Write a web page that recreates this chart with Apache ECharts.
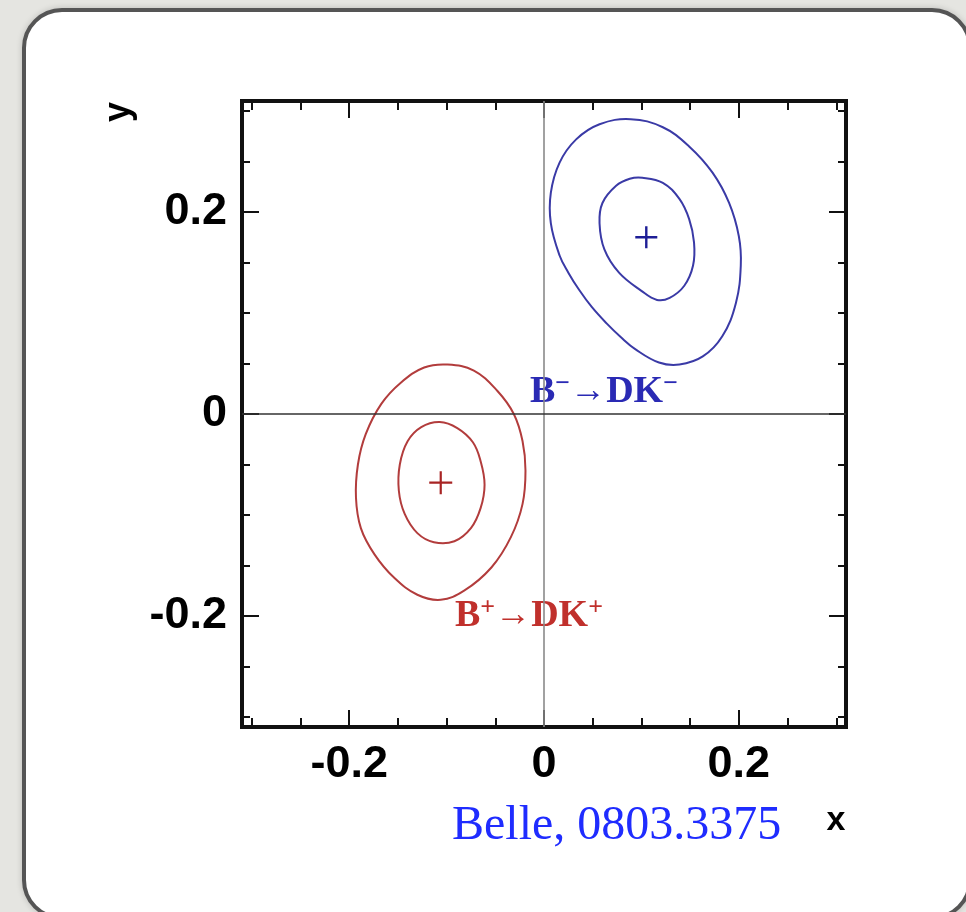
<!DOCTYPE html>
<html><head><meta charset="utf-8">
<script src="https://cdn.jsdelivr.net/npm/echarts@6.0.0/dist/echarts.min.js"></script>
<style>
html,body{margin:0;padding:0;background:#e5e5e1;overflow:hidden;}
#card{position:absolute;left:22px;top:8px;width:950px;height:912px;box-sizing:border-box;border:4px solid #555;border-radius:40px;background:#fff;box-shadow:0 0 6px rgba(0,0,0,0.18);}
#c{position:absolute;left:0;top:0;width:966px;height:912px;}
</style>
</head><body><div id="card"></div><div id="c"></div>
<script>
// ---- data ----
const axisMin = -0.31, axisMax = 0.31;
const majorTicks = [-0.2, 0, 0.2];
const minorTicks = [-0.3, -0.25, -0.2, -0.15, -0.1, -0.05, 0, 0.05, 0.1, 0.15, 0.2, 0.25, 0.3];
const tickLabels = [-0.2, 0, 0.2];

const blueOuter = [[0.089,0.292],[0.122,0.284],[0.149,0.265],[0.173,0.239],[0.190,0.209],[0.200,0.176],[0.202,0.147],[0.197,0.110],[0.183,0.077],[0.163,0.057],[0.139,0.049],[0.118,0.051],[0.094,0.064],[0.079,0.076],[0.064,0.090],[0.049,0.106],[0.036,0.123],[0.025,0.140],[0.016,0.157],[0.007,0.189],[0.007,0.219],[0.016,0.249],[0.033,0.272],[0.057,0.287]];
const blueInner = [[0.101,0.234],[0.122,0.229],[0.139,0.213],[0.149,0.193],[0.154,0.170],[0.153,0.147],[0.144,0.127],[0.129,0.115],[0.116,0.113],[0.100,0.122],[0.077,0.140],[0.062,0.163],[0.057,0.189],[0.060,0.209],[0.074,0.226],[0.088,0.233]];
const blueCenter = [0.105, 0.175];

const redOuter = [[-0.099,0.049],[-0.072,0.043],[-0.048,0.023],[-0.031,0.000],[-0.022,-0.027],[-0.019,-0.056],[-0.022,-0.089],[-0.034,-0.122],[-0.054,-0.152],[-0.082,-0.175],[-0.106,-0.184],[-0.130,-0.179],[-0.154,-0.162],[-0.174,-0.139],[-0.188,-0.113],[-0.193,-0.083],[-0.191,-0.050],[-0.183,-0.020],[-0.167,0.010],[-0.147,0.031],[-0.123,0.046]];
const redInner = [[-0.107,-0.008],[-0.089,-0.014],[-0.073,-0.028],[-0.065,-0.047],[-0.061,-0.070],[-0.065,-0.093],[-0.075,-0.113],[-0.092,-0.126],[-0.113,-0.127],[-0.130,-0.118],[-0.143,-0.099],[-0.149,-0.076],[-0.148,-0.050],[-0.140,-0.027],[-0.126,-0.013]];
const redCenter = [-0.106, -0.068];

// ---- styles ----
const blueC = '#3a3aa6', redC = '#b23c3c';
const labelFont = {fontFamily:'Liberation Sans, Arial, sans-serif', fontWeight:'bold', fontSize:45, color:'#000'};

function mkAxis(pos, ticks, len, withLabels) {
  return {
    type:'value', position:pos, min:axisMin, max:axisMax, gridIndex:0,
    axisLine:{show:false, onZero:false},
    splitLine:{show:false},
    axisTick:{show:true, inside:true, length:len, customValues:ticks, lineStyle:{color:'#111', width:2}},
    axisLabel: withLabels ? Object.assign({show:true, customValues:tickLabels, margin:15,
      formatter: v => (Math.abs(v) < 1e-9 ? '0' : v.toFixed(1))}, labelFont) : {show:false}
  };
}

// closed smooth contour drawn through the axes' scales (api.coord)
function contourSeries(points, color) {
  return {
    type:'custom', data:points, z:3, silent:true,
    renderItem:(params, api) => {
      if (params.dataIndex !== 0) return null;
      const pts = points.map(p => api.coord(p));
      return {type:'polygon', shape:{points:pts, smooth:0.4},
              style:{fill:'none', stroke:color, lineWidth:2}};
    }
  };
}

const chart = echarts.init(document.getElementById('c'), null, {renderer:'canvas'});
const cross = 'path://M10,0L10,20M0,10L20,10';
const richLabel = (col) => ({
  m:{fontFamily:'Liberation Serif', fontWeight:'bold', fontSize:38, fill:col, lineHeight:42},
  s:{fontFamily:'Liberation Serif', fontWeight:'bold', fontSize:26, fill:col, verticalAlign:'top', lineHeight:24},
  a:{fontFamily:'Liberation Serif', fontWeight:'bold', fontSize:36, fill:col, lineHeight:42}
});
chart.setOption({
  animation:false,
  backgroundColor:'transparent',
  grid:{left:242, top:101, right:120, bottom:185, show:true, borderColor:'#111', borderWidth:4, backgroundColor:'transparent'},
  xAxis:[mkAxis('bottom', majorTicks, 17, true), mkAxis('bottom', minorTicks, 9, false),
         mkAxis('top', majorTicks, 17, false), mkAxis('top', minorTicks, 9, false)],
  yAxis:[mkAxis('left', majorTicks, 17, true), mkAxis('left', minorTicks, 8, false),
         mkAxis('right', majorTicks, 17, false), mkAxis('right', minorTicks, 8, false)],
  series:[
    {type:'line', data:[], markLine:{silent:true, symbol:['none','none'], label:{show:false}, animation:false,
       data:[{xAxis:0, lineStyle:{color:'#8a8a8a', width:1.6, type:'solid'}},
             {yAxis:0, lineStyle:{color:'#333', width:1.6, type:'solid'}}]}},
    contourSeries(blueOuter, blueC),
    contourSeries(blueInner, blueC),
    contourSeries(redOuter, redC),
    contourSeries(redInner, redC),
    {type:'scatter', data:[blueCenter], symbol:cross, symbolSize:22, itemStyle:{color:'none', borderColor:'#1e1e96', borderWidth:2.4, opacity:1}, z:4},
    {type:'scatter', data:[redCenter], symbol:cross, symbolSize:23, itemStyle:{color:'none', borderColor:'#a82424', borderWidth:2.2, opacity:1}, z:4}
  ],
  graphic:[
    {type:'text', x:119, y:112, rotation:Math.PI/2,
     style:{text:'y', font:'bold 36px "Liberation Sans", Arial, sans-serif', fill:'#000', align:'center', verticalAlign:'middle', textAlign:'center', textVerticalAlign:'middle'}},
    {type:'text', x:836, y:821,
     style:{text:'x', font:'bold 34px "Liberation Sans", Arial, sans-serif', fill:'#000', align:'center', verticalAlign:'middle', textAlign:'center', textVerticalAlign:'middle'}},
    {type:'text', x:452, y:826,
     style:{text:'Belle, 0803.3375', font:'48px "Liberation Serif", "Times New Roman", serif', fill:'#1f2cff', align:'left', verticalAlign:'middle', textAlign:'left', textVerticalAlign:'middle'}},
    {type:'text', x:530, y:392,
     style:{text:'{m|B}{s|−}{a|→}{m|DK}{s|−}', align:'left', verticalAlign:'middle', textAlign:'left', textVerticalAlign:'middle',
       rich:richLabel('#2a2ab4')}},
    {type:'text', x:455, y:616,
     style:{text:'{m|B}{s|+}{a|→}{m|DK}{s|+}', align:'left', verticalAlign:'middle', textAlign:'left', textVerticalAlign:'middle',
       rich:richLabel('#c0302c')}}
  ]
});
</script>
</body></html>
